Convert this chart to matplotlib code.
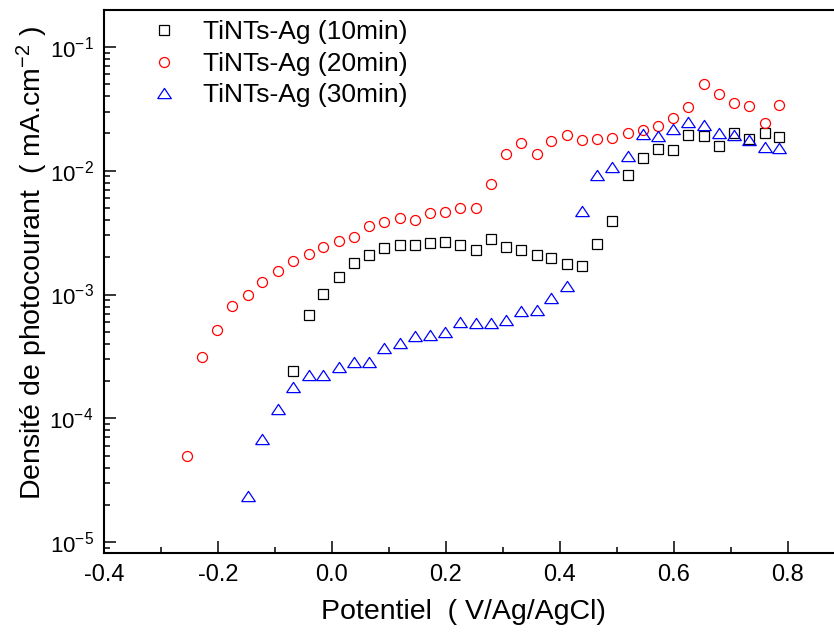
import matplotlib
matplotlib.use("Agg")
import matplotlib.pyplot as plt
from matplotlib.ticker import MultipleLocator, LogLocator, NullFormatter

plt.rcParams['font.family'] = ['Liberation Sans', 'DejaVu Sans']
plt.rcParams['mathtext.fontset'] = 'custom'
plt.rcParams['mathtext.rm'] = 'Liberation Sans'
plt.rcParams['mathtext.it'] = 'Liberation Sans:italic'
plt.rcParams['mathtext.bf'] = 'Liberation Sans:bold'
plt.rcParams['axes.unicode_minus'] = False

# scan potentials (V vs Ag/AgCl)
potential = [-0.255, -0.228, -0.202, -0.175, -0.148, -0.122, -0.095, -0.068,
             -0.041, -0.015, 0.012, 0.038, 0.065, 0.092, 0.119, 0.145,
             0.172, 0.199, 0.225, 0.252, 0.279, 0.305, 0.332, 0.359,
             0.385, 0.412, 0.439, 0.465, 0.492, 0.519, 0.545, 0.572,
             0.599, 0.625, 0.652, 0.679, 0.705, 0.732, 0.759, 0.785]

# photocurrent density (mA/cm2)
j_20min = [4.93e-5, 3.11e-4, 5.2e-4, 8.1e-4, 1.0e-3, 1.26e-3, 1.55e-3, 1.85e-3,
           2.12e-3, 2.43e-3, 2.69e-3, 2.92e-3, 3.6e-3, 3.83e-3, 4.13e-3, 4.00e-3,
           4.53e-3, 4.67e-3, 5.03e-3, 5.03e-3, 7.85e-3, 1.36e-2, 1.68e-2, 1.36e-2,
           1.74e-2, 1.96e-2, 1.77e-2, 1.82e-2, 1.85e-2, 2.03e-2, 2.15e-2, 2.31e-2,
           2.68e-2, 3.30e-2, 5.00e-2, 4.20e-2, 3.55e-2, 3.36e-2, 2.45e-2, 3.38e-2]

# 10 min series starts at potential[7]
j_10min = [2.42e-4, 6.83e-4, 1.01e-3, 1.38e-3, 1.81e-3, 2.07e-3, 2.39e-3, 2.50e-3,
           2.51e-3, 2.62e-3, 2.66e-3, 2.51e-3, 2.28e-3, 2.79e-3, 2.41e-3, 2.29e-3,
           2.07e-3, 1.97e-3, 1.76e-3, 1.69e-3, 2.56e-3, 3.91e-3, 9.25e-3, 1.26e-2,
           1.51e-2, 1.47e-2, 1.95e-2, 1.90e-2, 1.58e-2, 2.01e-2, 1.81e-2, 2.03e-2,
           1.86e-2]

# 30 min series starts at potential[4]
j_30min = [2.34e-5, 6.76e-5, 1.18e-4, 1.78e-4, 2.22e-4, 2.24e-4, 2.59e-4, 2.86e-4,
           2.83e-4, 3.67e-4, 4.08e-4, 4.60e-4, 4.73e-4, 5.00e-4, 6.00e-4, 5.85e-4,
           5.92e-4, 6.22e-4, 7.31e-4, 7.50e-4, 9.42e-4, 1.17e-3, 4.75e-3, 9.29e-3,
           1.07e-2, 1.32e-2, 1.98e-2, 1.91e-2, 2.19e-2, 2.46e-2, 2.34e-2, 2.01e-2,
           1.95e-2, 1.77e-2, 1.55e-2, 1.53e-2]

labels = ['TiNTs-Ag (10min)', 'TiNTs-Ag (20min)', 'TiNTs-Ag (30min)']

W, H = 834, 638
fig = plt.figure(figsize=(W / 100, H / 100), dpi=100)
# right spine falls just outside the picture, like the original crop
ax = fig.add_axes([104 / W, (H - 552.7) / H, 741 / W, 542.7 / H])

wide_tri = [(-1, -0.75), (1, -0.75), (0, 0.75), (-1, -0.75)]

ax.plot(potential[7:], j_10min, ls='none', marker='s', ms=6.8, mfc='none',
        mec='black', mew=0.9, label=labels[0])
ax.plot(potential, j_20min, ls='none', marker='o', ms=7.2, mfc='none',
        mec='#ff0000', mew=0.9, label=labels[1])
ax.plot(potential[4:], j_30min, ls='none', marker=wide_tri, ms=9.8, mfc='none',
        mec='#0000ff', mew=0.9, label=labels[2])

ax.set_yscale('log')
ax.set_xlim(-0.4, 0.9)
ax.set_ylim(8.2e-6, 0.199)

ax.xaxis.set_major_locator(MultipleLocator(0.2))
ax.xaxis.set_minor_locator(MultipleLocator(0.1))
ax.yaxis.set_major_locator(LogLocator(base=10, numticks=10))
ax.yaxis.set_minor_locator(LogLocator(base=10, subs=range(2, 10), numticks=20))
ax.yaxis.set_minor_formatter(NullFormatter())
ax.xaxis.set_major_formatter(plt.FuncFormatter(lambda v, p: '%.1f' % v))

for s in ax.spines.values():
    s.set_linewidth(1.5)
ax.tick_params(which='both', direction='in', top=False, right=False, width=1.1)
ax.tick_params(which='major', length=8.6)
ax.tick_params(which='minor', length=4.3)
ax.tick_params(axis='x', pad=8, labelsize=17)
ax.tick_params(axis='y', pad=7.5, labelsize=16)

fig.text(463 / W, 1 - 612 / H, 'Potentiel  ( V/Ag/AgCl)', fontsize=20.5,
         ha='center', va='center')
fig.text(32 / W, 1 - 263 / H, 'Densité de photocourant  ( mA.cm$^{-2}$ )',
         fontsize=20.5, rotation=90, ha='center', va='center')

ax.legend(loc='upper left', bbox_to_anchor=(151.3 / W, 1 - 20.5 / H),
          bbox_transform=fig.transFigure, frameon=False, fontsize=19,
          handlelength=1.0, handletextpad=0.97, labelspacing=0.28,
          borderpad=0, borderaxespad=0)

fig.savefig('out.png', dpi=100)
